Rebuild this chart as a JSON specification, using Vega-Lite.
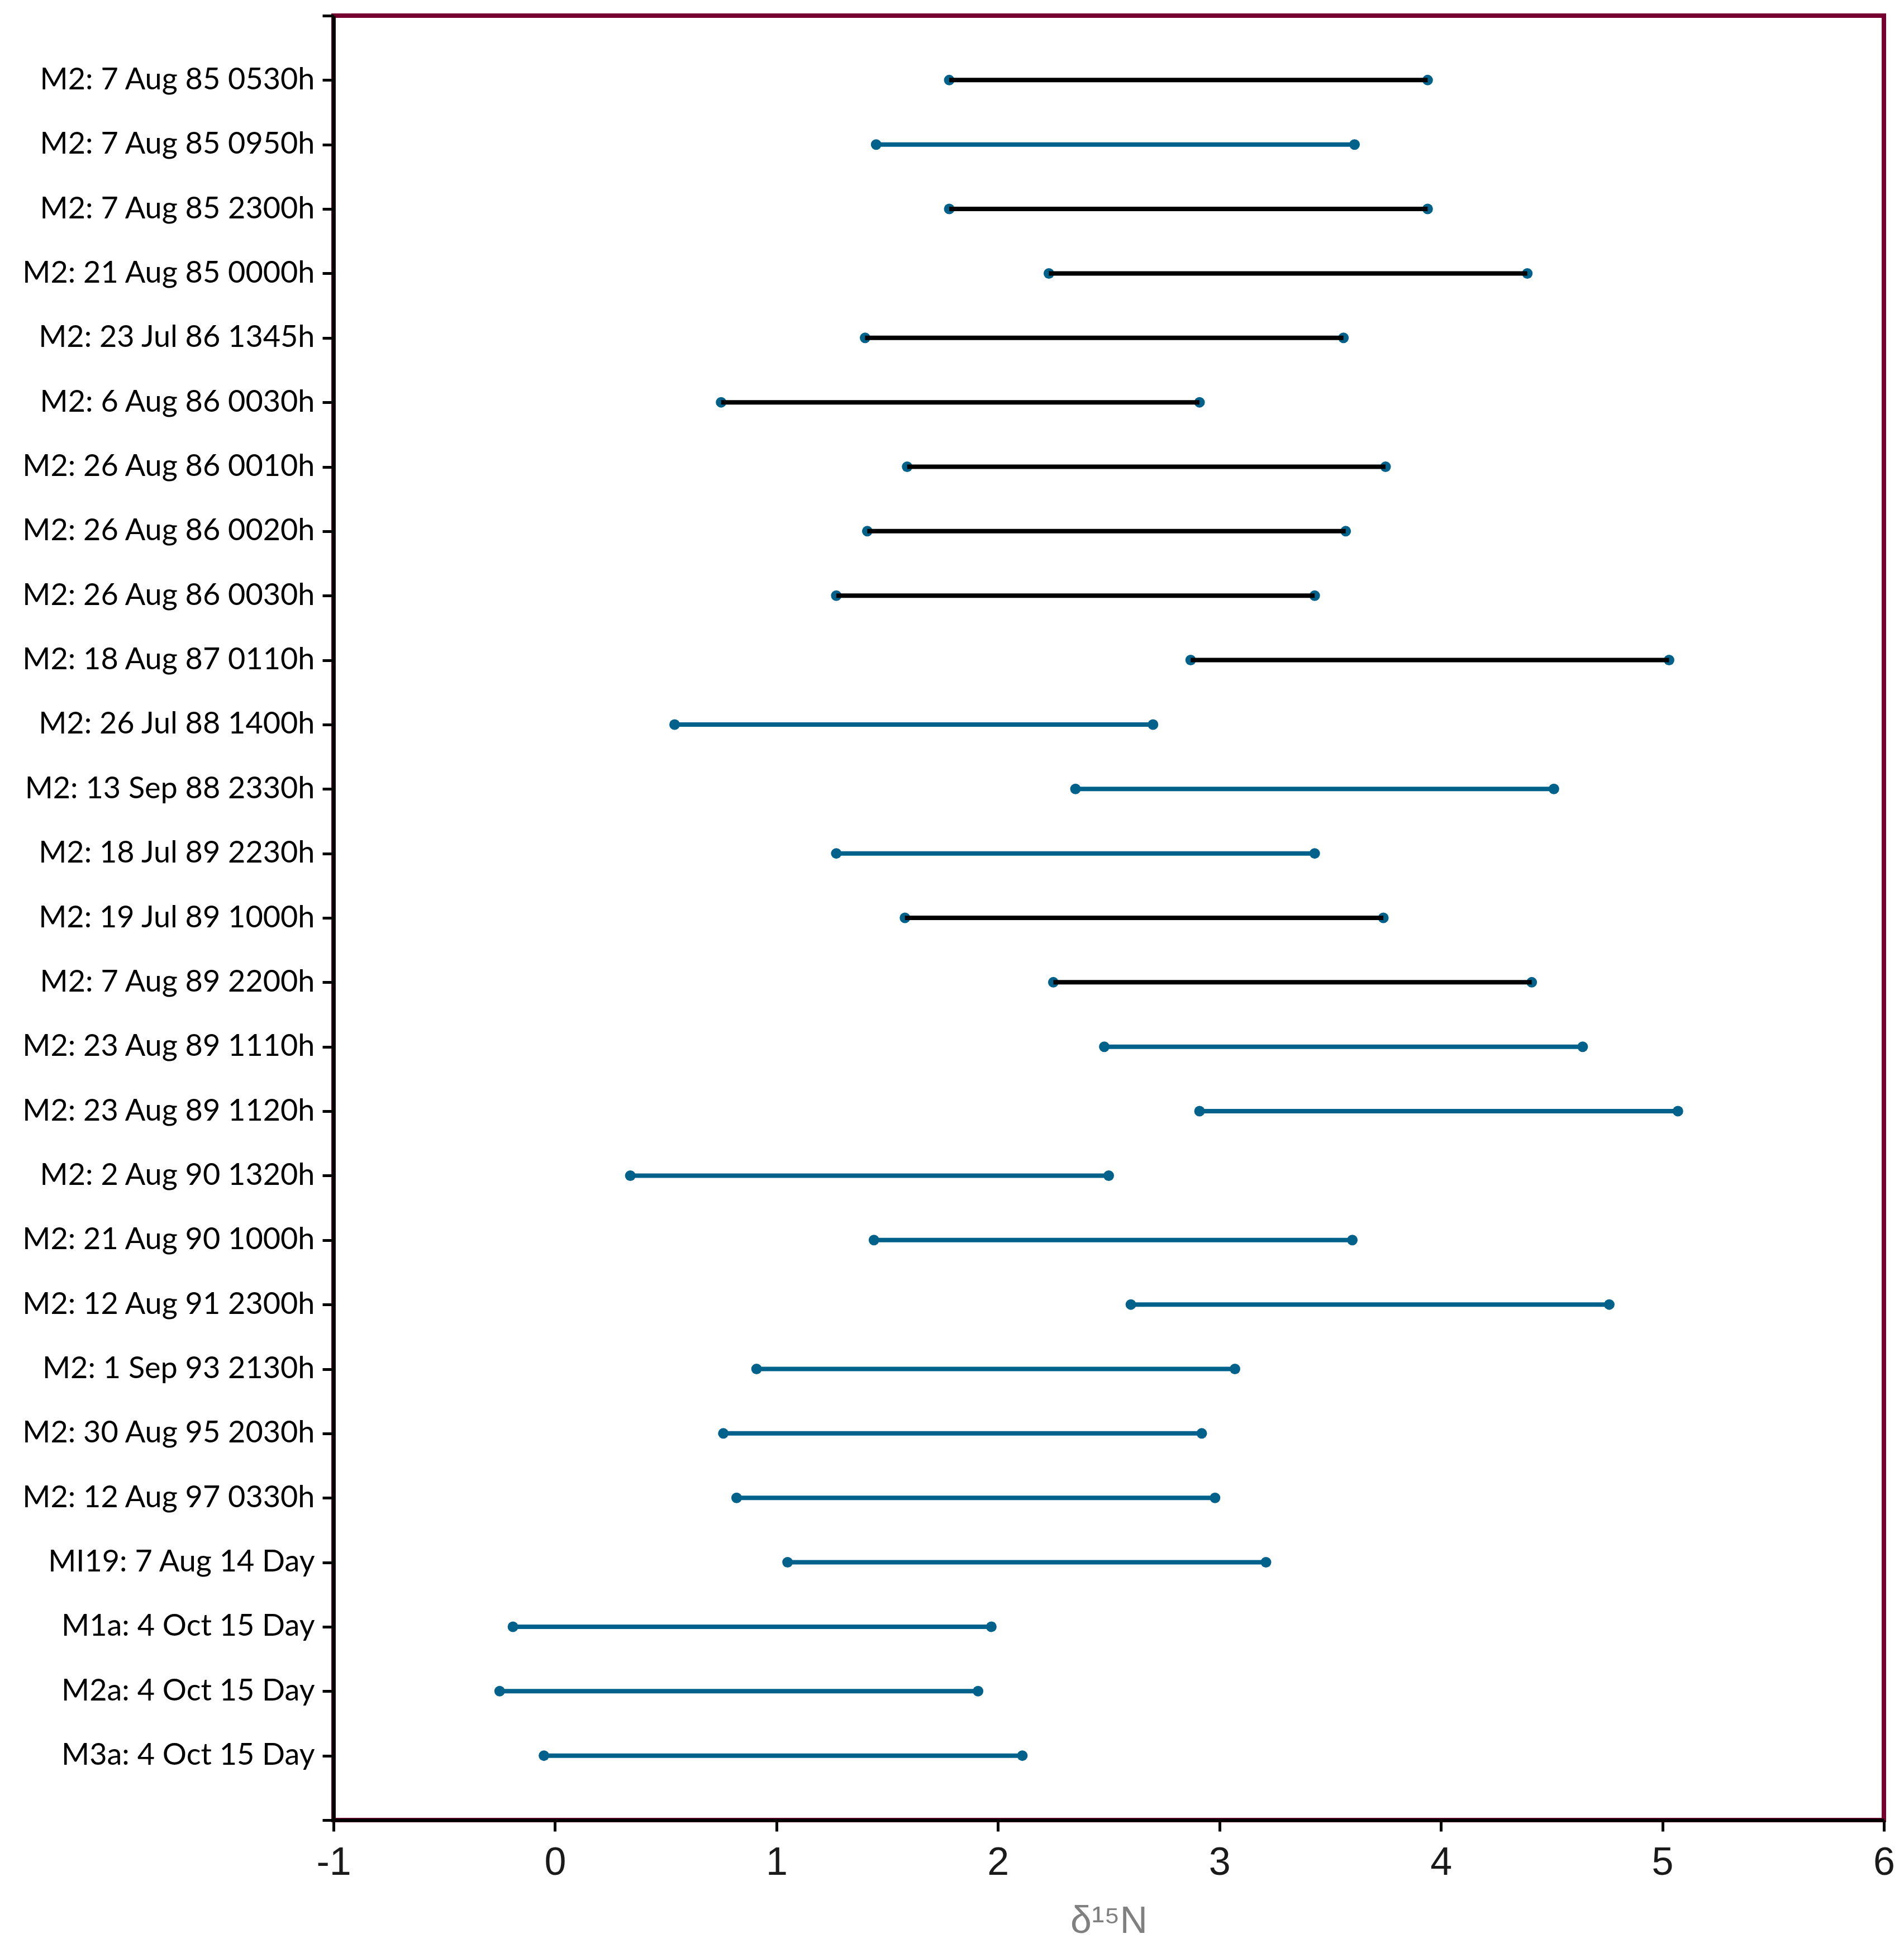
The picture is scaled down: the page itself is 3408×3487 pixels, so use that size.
{
  "$schema": "https://vega.github.io/schema/vega-lite/v6.json",
  "width": 2775,
  "height": 3230,
  "autosize": {"type": "none"},
  "padding": {"left": 597, "top": 28, "right": 36, "bottom": 229},
  "background": "white",
  "config": {
    "view": {"stroke": "#76002f", "strokeWidth": 8},
    "axis": {"grid": false}
  },
  "data": {
    "values": [
      {"label": "M2: 7 Aug 85 0530h", "lo": 1.78, "hi": 3.94, "kind": "black"},
      {"label": "M2: 7 Aug 85 0950h", "lo": 1.45, "hi": 3.61, "kind": "teal"},
      {"label": "M2: 7 Aug 85 2300h", "lo": 1.78, "hi": 3.94, "kind": "black"},
      {"label": "M2: 21 Aug 85 0000h", "lo": 2.23, "hi": 4.39, "kind": "black"},
      {"label": "M2: 23 Jul 86 1345h", "lo": 1.40, "hi": 3.56, "kind": "black"},
      {"label": "M2: 6 Aug 86 0030h", "lo": 0.75, "hi": 2.91, "kind": "black"},
      {"label": "M2: 26 Aug 86 0010h", "lo": 1.59, "hi": 3.75, "kind": "black"},
      {"label": "M2: 26 Aug 86 0020h", "lo": 1.41, "hi": 3.57, "kind": "black"},
      {"label": "M2: 26 Aug 86 0030h", "lo": 1.27, "hi": 3.43, "kind": "black"},
      {"label": "M2: 18 Aug 87 0110h", "lo": 2.87, "hi": 5.03, "kind": "black"},
      {"label": "M2: 26 Jul 88 1400h", "lo": 0.54, "hi": 2.70, "kind": "teal"},
      {"label": "M2: 13 Sep 88 2330h", "lo": 2.35, "hi": 4.51, "kind": "teal"},
      {"label": "M2: 18 Jul 89 2230h", "lo": 1.27, "hi": 3.43, "kind": "teal"},
      {"label": "M2: 19 Jul 89 1000h", "lo": 1.58, "hi": 3.74, "kind": "black"},
      {"label": "M2: 7 Aug 89 2200h", "lo": 2.25, "hi": 4.41, "kind": "black"},
      {"label": "M2: 23 Aug 89 1110h", "lo": 2.48, "hi": 4.64, "kind": "teal"},
      {"label": "M2: 23 Aug 89 1120h", "lo": 2.91, "hi": 5.07, "kind": "teal"},
      {"label": "M2: 2 Aug 90 1320h", "lo": 0.34, "hi": 2.50, "kind": "teal"},
      {"label": "M2: 21 Aug 90 1000h", "lo": 1.44, "hi": 3.60, "kind": "teal"},
      {"label": "M2: 12 Aug 91 2300h", "lo": 2.60, "hi": 4.76, "kind": "teal"},
      {"label": "M2: 1 Sep 93 2130h", "lo": 0.91, "hi": 3.07, "kind": "teal"},
      {"label": "M2: 30 Aug 95 2030h", "lo": 0.76, "hi": 2.92, "kind": "teal"},
      {"label": "M2: 12 Aug 97 0330h", "lo": 0.82, "hi": 2.98, "kind": "teal"},
      {"label": "MI19: 7 Aug 14 Day", "lo": 1.05, "hi": 3.21, "kind": "teal"},
      {"label": "M1a: 4 Oct 15 Day", "lo": -0.19, "hi": 1.97, "kind": "teal"},
      {"label": "M2a: 4 Oct 15 Day", "lo": -0.25, "hi": 1.91, "kind": "teal"},
      {"label": "M3a: 4 Oct 15 Day", "lo": -0.05, "hi": 2.11, "kind": "teal"}
    ]
  },
  "encoding": {
    "y": {
      "field": "label",
      "type": "nominal",
      "scale": {
        "type": "point",
        "padding": 0,
        "domain": [" ",
          "M2: 7 Aug 85 0530h", "M2: 7 Aug 85 0950h", "M2: 7 Aug 85 2300h", "M2: 21 Aug 85 0000h",
          "M2: 23 Jul 86 1345h", "M2: 6 Aug 86 0030h", "M2: 26 Aug 86 0010h", "M2: 26 Aug 86 0020h",
          "M2: 26 Aug 86 0030h", "M2: 18 Aug 87 0110h", "M2: 26 Jul 88 1400h", "M2: 13 Sep 88 2330h",
          "M2: 18 Jul 89 2230h", "M2: 19 Jul 89 1000h", "M2: 7 Aug 89 2200h", "M2: 23 Aug 89 1110h",
          "M2: 23 Aug 89 1120h", "M2: 2 Aug 90 1320h", "M2: 21 Aug 90 1000h", "M2: 12 Aug 91 2300h",
          "M2: 1 Sep 93 2130h", "M2: 30 Aug 95 2030h", "M2: 12 Aug 97 0330h", "MI19: 7 Aug 14 Day",
          "M1a: 4 Oct 15 Day", "M2a: 4 Oct 15 Day", "M3a: 4 Oct 15 Day", "  "]
      },
      "axis": {
        "title": null,
        "labelFont": "Lato",
        "labelFontSize": 54,
        "labelColor": "#000000",
        "labelPadding": 14,
        "labelLimit": 0,
        "domainColor": "#000000",
        "domainWidth": 6,
        "tickColor": "#000000",
        "tickWidth": 5,
        "tickSize": 20
      }
    }
  },
  "layer": [
    {
      "mark": {"type": "point", "filled": true, "opacity": 1, "size": 360, "color": "#00628b"},
      "encoding": {
        "x": {
          "field": "lo",
          "type": "quantitative",
          "scale": {"domain": [-1, 6], "nice": false, "zero": false},
          "axis": {
            "title": "δ¹⁵N",
            "titleFont": "Liberation Sans",
            "titleFontSize": 68,
            "titleFontWeight": "normal",
            "titleColor": "#808080",
            "titlePadding": 36,
            "values": [-1, 0, 1, 2, 3, 4, 5, 6],
            "labelExpr": "datum.value < 0 ? '-' + abs(datum.value) : '' + datum.value",
            "labelFont": "Liberation Sans",
            "labelFontSize": 70,
            "labelColor": "#1a1a1a",
            "labelPadding": 22,
            "labelFlush": false,
            "domainColor": "#000000",
            "domainWidth": 6,
            "tickColor": "#000000",
            "tickWidth": 5,
            "tickSize": 20
          }
        }
      }
    },
    {
      "mark": {"type": "point", "filled": true, "opacity": 1, "size": 360, "color": "#00628b"},
      "encoding": {
        "x": {"field": "hi", "type": "quantitative"}
      }
    },
    {
      "mark": {"type": "rule", "strokeWidth": 8},
      "encoding": {
        "x": {"field": "lo", "type": "quantitative"},
        "x2": {"field": "hi"},
        "color": {
          "field": "kind",
          "type": "nominal",
          "scale": {"domain": ["black", "teal"], "range": ["#000000", "#00628b"]},
          "legend": null
        }
      }
    }
  ]
}
